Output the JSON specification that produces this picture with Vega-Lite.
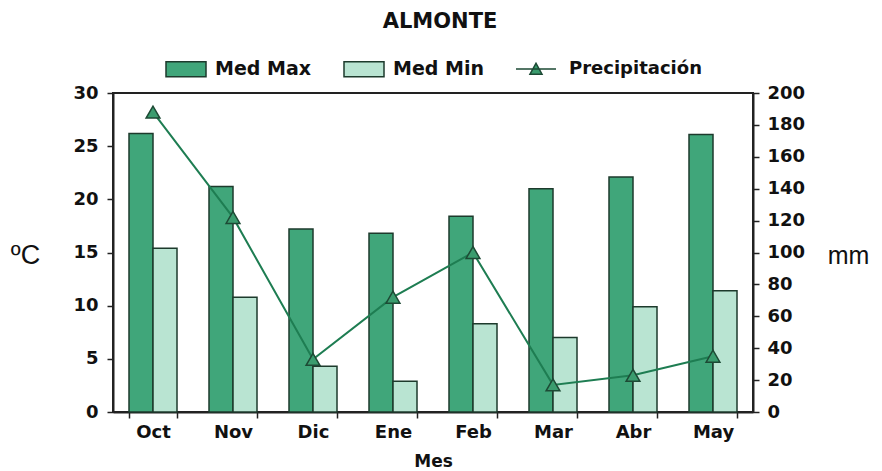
{
  "$schema": "https://vega.github.io/schema/vega-lite/v6.json",
  "width": 640,
  "height": 319,
  "autosize": {"type": "none"},
  "padding": {"left": 113, "top": 93, "right": 129, "bottom": 59},
  "background": "white",
  "title": {"text": "ALMONTE", "font": "DejaVu Sans", "fontSize": 21, "fontWeight": "bold", "color": "#111", "anchor": "middle", "dx": 7, "offset": 16},
  "config": {
    "view": {"stroke": "#222", "strokeWidth": 2},
    "axis": {"grid": false, "domainColor": "#222", "domainWidth": 2, "tickColor": "#222", "tickWidth": 1.5, "labelFont": "DejaVu Sans", "labelFontWeight": "bold", "labelFontSize": 18, "labelColor": "#111"}
  },
  "datasets": {
    "temps": [
      {"mes": "Oct", "serie": "Med Max", "valor": 26.2},
      {"mes": "Oct", "serie": "Med Min", "valor": 15.4},
      {"mes": "Nov", "serie": "Med Max", "valor": 21.2},
      {"mes": "Nov", "serie": "Med Min", "valor": 10.8},
      {"mes": "Dic", "serie": "Med Max", "valor": 17.2},
      {"mes": "Dic", "serie": "Med Min", "valor": 4.3},
      {"mes": "Ene", "serie": "Med Max", "valor": 16.8},
      {"mes": "Ene", "serie": "Med Min", "valor": 2.9},
      {"mes": "Feb", "serie": "Med Max", "valor": 18.4},
      {"mes": "Feb", "serie": "Med Min", "valor": 8.3},
      {"mes": "Mar", "serie": "Med Max", "valor": 21.0},
      {"mes": "Mar", "serie": "Med Min", "valor": 7.0},
      {"mes": "Abr", "serie": "Med Max", "valor": 22.1},
      {"mes": "Abr", "serie": "Med Min", "valor": 9.9},
      {"mes": "May", "serie": "Med Max", "valor": 26.1},
      {"mes": "May", "serie": "Med Min", "valor": 11.4}
    ],
    "precip": [
      {"mes": "Oct", "serie": "Precipitación", "mm": 188},
      {"mes": "Nov", "serie": "Precipitación", "mm": 122},
      {"mes": "Dic", "serie": "Precipitación", "mm": 33},
      {"mes": "Ene", "serie": "Precipitación", "mm": 72},
      {"mes": "Feb", "serie": "Precipitación", "mm": 100},
      {"mes": "Mar", "serie": "Precipitación", "mm": 17},
      {"mes": "Abr", "serie": "Precipitación", "mm": 23},
      {"mes": "May", "serie": "Precipitación", "mm": 35}
    ]
  },
  "encoding": {
    "x": {
      "field": "mes", "type": "nominal",
      "sort": ["Oct", "Nov", "Dic", "Ene", "Feb", "Mar", "Abr", "May"],
      "scale": {"paddingInner": 0.4, "paddingOuter": 0.2},
      "axis": {"title": "Mes", "titleFont": "DejaVu Sans", "titleFontSize": 17, "titleFontWeight": "bold", "titleColor": "#111", "titlePadding": 12, "labelAngle": 0, "tickBand": "extent", "tickSize": 6, "labelPadding": 5}
    }
  },
  "layer": [
    {
      "data": {"name": "temps"},
      "mark": {"type": "bar", "stroke": "#1d3a2c", "strokeWidth": 1.5},
      "encoding": {
        "xOffset": {"field": "serie", "type": "nominal", "sort": ["Med Max", "Med Min"], "scale": {"paddingInner": 0, "paddingOuter": 0}},
        "y": {
          "field": "valor", "type": "quantitative",
          "scale": {"domain": [0, 30], "nice": false},
          "axis": {"values": [0, 5, 10, 15, 20, 25, 30], "tickSize": 6, "labelPadding": 9, "title": "ºC", "titleAngle": 0, "titleFont": "Liberation Sans", "titleFontSize": 27, "titleFontWeight": "normal", "titleColor": "#111", "titleX": -88, "titleY": 162, "titleAlign": "center", "titleBaseline": "middle"}
        },
        "color": {
          "field": "serie", "type": "nominal",
          "scale": {"domain": ["Med Max", "Med Min"], "range": ["#40a67a", "#b9e4d2"]},
          "legend": {"orient": "none", "legendX": 52, "legendY": -45, "direction": "horizontal", "title": null, "symbolType": "M-1,-0.375H1V0.375H-1Z", "symbolSize": 1600, "symbolStrokeColor": "#1d3a2c", "symbolStrokeWidth": 1.5, "labelFont": "DejaVu Sans", "labelFontSize": 19, "labelFontWeight": "bold", "labelColor": "#111", "labelOffset": 8, "columnPadding": 30}
        }
      }
    },
    {
      "data": {"name": "precip"},
      "layer": [
        {
          "mark": {"type": "line", "color": "#1e7d52", "strokeWidth": 2},
          "encoding": {
            "y": {
              "field": "mm", "type": "quantitative",
              "scale": {"domain": [0, 200], "nice": false},
              "axis": {"orient": "right", "values": [0, 20, 40, 60, 80, 100, 120, 140, 160, 180, 200], "tickSize": 6, "labelPadding": 8, "title": "mm", "titleAngle": 0, "titleFont": "Liberation Sans", "titleFontSize": 25, "titleFontWeight": "normal", "titleColor": "#111", "titleX": 95, "titleY": 162, "titleAlign": "center", "titleBaseline": "middle"}
            }
          }
        },
        {
          "mark": {"type": "point", "shape": "triangle-up", "filled": true, "size": 190, "stroke": "#1d4a35", "strokeWidth": 1.5, "opacity": 1},
          "encoding": {
            "y": {
              "field": "mm", "type": "quantitative",
              "scale": {"domain": [0, 200], "nice": false},
              "axis": {"orient": "right", "values": [0, 20, 40, 60, 80, 100, 120, 140, 160, 180, 200], "tickSize": 6, "labelPadding": 8, "title": "mm", "titleAngle": 0, "titleFont": "Liberation Sans", "titleFontSize": 25, "titleFontWeight": "normal", "titleColor": "#111", "titleX": 95, "titleY": 162, "titleAlign": "center", "titleBaseline": "middle"}
            },
            "color": {
              "field": "serie", "type": "nominal",
              "scale": {"domain": ["Precipitación"], "range": ["#3a9c6e"]},
              "legend": {"orient": "none", "legendX": 402, "legendY": -45, "direction": "horizontal", "title": null, "symbolType": "M-1,0H1M-0.3,0.26L0,-0.28L0.3,0.26Z", "symbolSize": 1600, "symbolFillColor": "#3a9c6e", "symbolStrokeColor": "#1d4a35", "symbolStrokeWidth": 1.5, "labelFont": "DejaVu Sans", "labelFontSize": 18, "labelFontWeight": "bold", "labelColor": "#111", "labelOffset": 12}
            }
          }
        }
      ]
    }
  ],
  "resolve": {"scale": {"y": "independent", "color": "independent"}}
}
